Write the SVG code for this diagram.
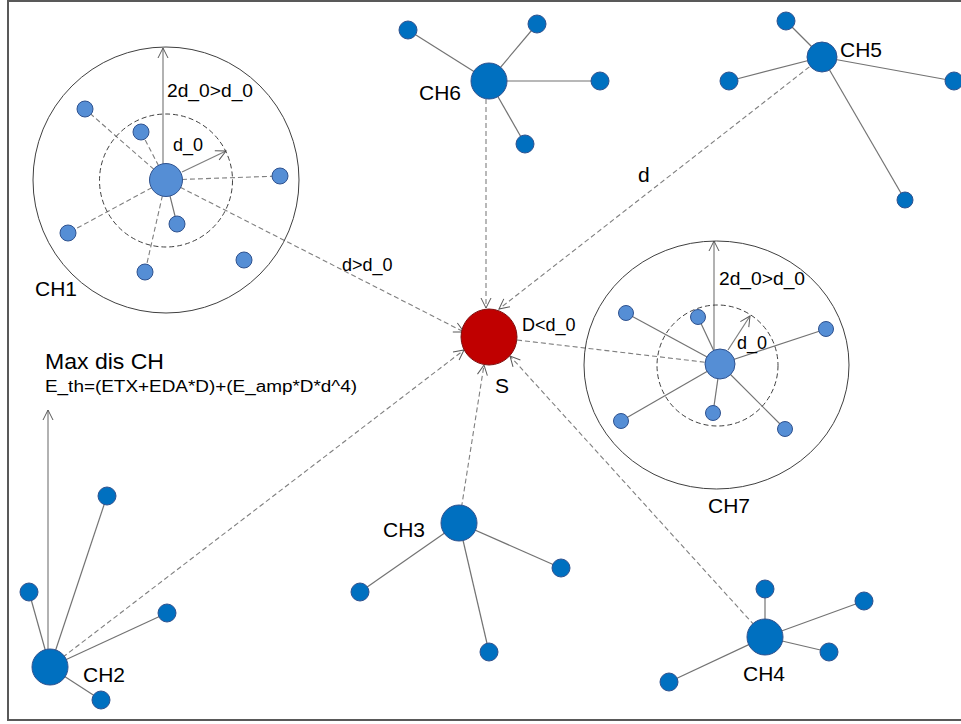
<svg xmlns="http://www.w3.org/2000/svg" width="961" height="724" viewBox="0 0 961 724">
<style>
.frame{fill:none;stroke:#595959;stroke-width:2}
.ring{fill:none;stroke:#404040;stroke-width:1}
.ringd{fill:none;stroke:#404040;stroke-width:1;stroke-dasharray:5 3}
.ch{fill:#0070C0;stroke:#2F528F;stroke-width:1}
.lt{fill:#558ED5;stroke:#2F528F;stroke-width:1}
.sink{fill:#C00000;stroke:#7F1010;stroke-width:1}
.edge{fill:none;stroke:#737373;stroke-width:1.2}
.dash{fill:none;stroke:#7F7F7F;stroke-width:1.1;stroke-dasharray:5 3}
.ann{fill:none;stroke:#7F7F7F;stroke-width:1.2;marker-end:url(#open)}
.tosink{marker-end:url(#open)}
text{font-family:"Liberation Sans",Arial,sans-serif;fill:#000}
.s{font-size:18px}
.l{font-size:21px}
</style>
<defs>
<marker id="open" viewBox="0 0 12 12" refX="11" refY="6" markerWidth="12" markerHeight="12" orient="auto" markerUnits="userSpaceOnUse">
<path d="M1,1 L11,6 L1,11" fill="none" stroke="#595959" stroke-width="1"/>
</marker>
</defs>
<rect class="frame" x="8" y="1" width="962" height="719"/>
<g id="connectors">
<line class="dash tosink" x1="166" y1="180" x2="464" y2="332"/>
<line class="dash tosink" x1="486" y1="99" x2="486" y2="308"/>
<line class="dash tosink" x1="822" y1="57" x2="499" y2="309"/>
<line class="dash tosink" x1="50" y1="667" x2="464" y2="350"/>
<line class="dash tosink" x1="459" y1="523" x2="484" y2="365"/>
<line class="dash tosink" x1="765" y1="637" x2="510" y2="356"/>
<line class="dash" x1="517" y1="340" x2="720" y2="364"/>
<line class="dash" x1="166" y1="180" x2="85" y2="109"/>
<line class="dash" x1="166" y1="180" x2="141" y2="132"/>
<line class="dash" x1="166" y1="180" x2="280" y2="176"/>
<line class="dash" x1="166" y1="180" x2="68" y2="233"/>
<line class="dash" x1="166" y1="180" x2="145" y2="272"/>
<line class="edge" x1="166" y1="180" x2="177" y2="224"/>
<line class="edge" x1="720" y1="364" x2="626" y2="313"/>
<line class="edge" x1="720" y1="364" x2="698" y2="317"/>
<line class="edge" x1="720" y1="364" x2="826" y2="329"/>
<line class="edge" x1="720" y1="364" x2="621" y2="421"/>
<line class="edge" x1="720" y1="364" x2="713" y2="413"/>
<line class="edge" x1="720" y1="364" x2="785" y2="429"/>
<line class="edge" x1="489" y1="81" x2="408" y2="30"/>
<line class="edge" x1="489" y1="81" x2="537" y2="24"/>
<line class="edge" x1="489" y1="81" x2="600" y2="81"/>
<line class="edge" x1="489" y1="81" x2="525" y2="144"/>
<line class="edge" x1="822" y1="57" x2="786" y2="21"/>
<line class="edge" x1="822" y1="57" x2="729" y2="81"/>
<line class="edge" x1="822" y1="57" x2="954" y2="81"/>
<line class="edge" x1="822" y1="57" x2="905" y2="200"/>
<line class="edge" x1="50" y1="667" x2="107" y2="496"/>
<line class="edge" x1="50" y1="667" x2="29" y2="592"/>
<line class="edge" x1="50" y1="667" x2="167" y2="613"/>
<line class="edge" x1="50" y1="667" x2="101" y2="700"/>
<line class="edge" x1="459" y1="523" x2="360" y2="592"/>
<line class="edge" x1="459" y1="523" x2="561" y2="568"/>
<line class="edge" x1="459" y1="523" x2="489" y2="652"/>
<line class="edge" x1="765" y1="637" x2="765" y2="589"/>
<line class="edge" x1="765" y1="637" x2="864" y2="601"/>
<line class="edge" x1="765" y1="637" x2="829" y2="652"/>
<line class="edge" x1="765" y1="637" x2="669" y2="682"/>
<line class="ann" x1="163" y1="164" x2="163" y2="48"/>
<line class="ann" x1="182" y1="172" x2="226" y2="151"/>
<line class="ann" x1="714" y1="352" x2="714" y2="241"/>
<line class="ann" x1="728" y1="350" x2="750" y2="316"/>
<line class="ann" x1="48" y1="650" x2="48" y2="410"/>
</g>
<g id="CH1">
<circle class="ring" cx="166" cy="180" r="133"/>
<circle class="ringd" cx="166" cy="180.5" r="66.5"/>
<circle class="lt" cx="166" cy="180" r="16.5"/>
<circle class="lt" cx="85" cy="109" r="8"/>
<circle class="lt" cx="141" cy="132" r="8"/>
<circle class="lt" cx="280" cy="176" r="8"/>
<circle class="lt" cx="177" cy="224" r="8"/>
<circle class="lt" cx="68" cy="233" r="8"/>
<circle class="lt" cx="145" cy="272" r="8"/>
<circle class="lt" cx="244" cy="260" r="8"/>
<text class="s" x="167" y="97" textLength="86" lengthAdjust="spacingAndGlyphs">2d_0&gt;d_0</text>
<text class="s" x="173" y="151">d_0</text>
<text class="l" x="35" y="296">CH1</text>
</g>
<g id="CH7">
<ellipse class="ring" cx="716.5" cy="365" rx="132.5" ry="124"/>
<circle class="ringd" cx="717.5" cy="365.5" r="60.5"/>
<circle class="lt" cx="720" cy="364" r="15"/>
<circle class="lt" cx="626" cy="313" r="7.5"/>
<circle class="lt" cx="698" cy="317" r="7.5"/>
<circle class="lt" cx="826" cy="329" r="7.5"/>
<circle class="lt" cx="621" cy="421" r="7.5"/>
<circle class="lt" cx="713" cy="413" r="7.5"/>
<circle class="lt" cx="785" cy="429" r="7.5"/>
<text class="s" x="719" y="285" textLength="86" lengthAdjust="spacingAndGlyphs">2d_0&gt;d_0</text>
<text class="s" x="737" y="349">d_0</text>
<text class="l" x="708" y="513">CH7</text>
</g>
<g id="CH6">
<circle class="ch" cx="489" cy="81" r="18"/>
<circle class="ch" cx="408" cy="30" r="9"/>
<circle class="ch" cx="537" cy="24" r="9"/>
<circle class="ch" cx="600" cy="81" r="9"/>
<circle class="ch" cx="525" cy="144" r="9"/>
<text class="l" x="419" y="100">CH6</text>
</g>
<g id="CH5">
<circle class="ch" cx="822" cy="57" r="15"/>
<circle class="ch" cx="786" cy="21" r="9"/>
<circle class="ch" cx="729" cy="81" r="9"/>
<circle class="ch" cx="954" cy="81" r="9"/>
<circle class="ch" cx="905" cy="200" r="8"/>
<text class="l" x="840" y="57">CH5</text>
<text x="638" y="182" style="font-size:21px">d</text>
</g>
<g id="CH2">
<circle class="ch" cx="50" cy="667" r="18"/>
<circle class="ch" cx="107" cy="496" r="9"/>
<circle class="ch" cx="29" cy="592" r="9"/>
<circle class="ch" cx="167" cy="613" r="9"/>
<circle class="ch" cx="101" cy="700" r="9"/>
<text class="l" x="83" y="682">CH2</text>
<text x="45" y="369" style="font-size:22px" textLength="119" lengthAdjust="spacingAndGlyphs">Max dis CH</text>
<text x="45" y="392" style="font-size:16px" textLength="312" lengthAdjust="spacingAndGlyphs">E_th=(ETX+EDA*D)+(E_amp*D*d^4)</text>
</g>
<g id="CH3">
<circle class="ch" cx="459" cy="523" r="18"/>
<circle class="ch" cx="360" cy="592" r="9"/>
<circle class="ch" cx="561" cy="568" r="9"/>
<circle class="ch" cx="489" cy="652" r="9"/>
<text class="l" x="383" y="537">CH3</text>
</g>
<g id="CH4">
<circle class="ch" cx="765" cy="637" r="18"/>
<circle class="ch" cx="765" cy="589" r="9"/>
<circle class="ch" cx="864" cy="601" r="9"/>
<circle class="ch" cx="829" cy="652" r="9"/>
<circle class="ch" cx="669" cy="682" r="9"/>
<text class="l" x="743" y="681">CH4</text>
</g>
<g id="S">
<circle class="sink" cx="489" cy="337" r="28"/>
<text class="l" x="495" y="393">S</text>
<text class="s" x="522" y="331">D&lt;d_0</text>
<text class="s" x="342" y="271">d&gt;d_0</text>
</g>
</svg>
